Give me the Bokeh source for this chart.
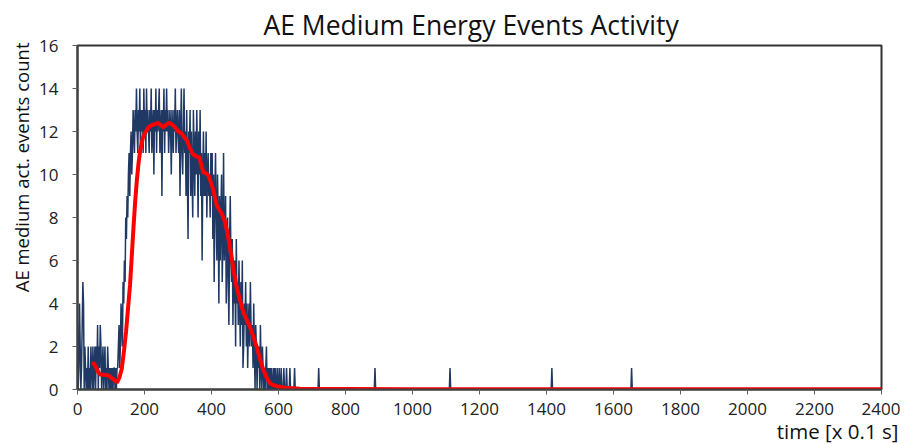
import numpy as np
from bokeh.plotting import figure
from bokeh.models import Title, Range1d, FixedTicker
from bokeh.embed import file_html
from bokeh.resources import INLINE

# Blue series: event counts sampled every 2 time units from 0 to 660
blue_counts = [
    3, 0, 1, 4, 2, 0, 1, 3, 5, 4,
    0, 2, 1, 0, 1, 0, 2, 0, 1, 0,
    2, 1, 0, 2, 0, 1, 2, 0, 2, 1,
    3, 0, 2, 1, 3, 2, 0, 1, 2, 0,
    1, 2, 0, 1, 0, 2, 1, 0, 1, 0,
    1, 0, 1, 0, 1, 1, 0, 1, 0, 1,
    1, 2, 3, 1, 2, 4, 3, 2, 5, 4,
    6, 5, 8, 7, 9, 8, 10, 11, 9, 11,
    12, 10, 11, 13, 12, 11, 13, 12, 14, 12,
    11, 13, 12, 14, 11, 13, 12, 13, 11, 14,
    12, 13, 11, 14, 12, 13, 12, 11, 13, 12,
    14, 11, 12, 13, 10, 13, 12, 14, 11, 13,
    12, 13, 14, 11, 12, 13, 9, 13, 12, 14,
    11, 13, 12, 14, 12, 13, 11, 12, 13, 12,
    10, 13, 12, 11, 13, 12, 14, 11, 12, 13,
    12, 11, 13, 9, 12, 14, 11, 10, 12, 14,
    11, 12, 9, 13, 10, 7, 12, 11, 13, 9,
    12, 10, 8, 13, 11, 9, 12, 10, 13, 11,
    8, 12, 10, 13, 9, 11, 6, 10, 12, 9,
    11, 9, 12, 8, 10, 11, 9, 10, 8, 11,
    9, 11, 7, 10, 5, 9, 11, 8, 6, 10,
    8, 4, 9, 6, 8, 10, 5, 7, 11, 6,
    7, 9, 4, 6, 8, 5, 3, 7, 9, 6,
    5, 7, 3, 6, 4, 6, 2, 7, 4, 5,
    3, 6, 4, 2, 5, 3, 6, 1, 2, 4,
    3, 5, 2, 4, 1, 3, 4, 2, 5, 3,
    2, 3, 1, 4, 2, 0, 3, 2, 0, 2,
    1, 2, 0, 3, 1, 0, 2, 1, 0, 1,
    0, 1, 2, 0, 1, 0, 1, 0, 1, 0,
    1, 0, 0, 1, 0, 1, 0, 0, 1, 0,
    0, 1, 0, 0, 1, 0, 0, 0, 1, 0,
    0, 0, 1, 0, 0, 0, 0, 1, 0, 0,
    0, 0, 0, 0, 1, 0, 0, 0, 0, 0,
    0,
]
blue_step = 2
spike_times = [720, 888, 1112, 1416, 1654]

# Red smoothed series
red_x = [48, 55, 62, 68, 80, 90, 97, 105, 112, 119, 125, 132, 138, 145, 151,
         157, 162, 167, 172, 177, 182, 187, 195, 202, 212, 222, 232, 241, 248,
         256, 264, 271, 280, 291, 301, 311, 320, 326, 335, 344, 354, 364, 370,
         376, 384, 391, 399, 406, 411, 416, 424, 431, 439, 446, 453, 460, 467,
         475, 485, 495, 505, 515, 525, 535, 545, 555, 565, 575, 585, 595, 620,
         664, 800, 1000, 1400, 1800, 2400]
red_y = [1.21, 1.05, 0.8, 0.7, 0.68, 0.66, 0.6, 0.5, 0.4, 0.36, 0.55, 0.95, 1.7,
         2.7, 3.8, 4.9, 6.2, 7.5, 8.7, 9.7, 10.5, 11.1, 11.7, 11.95, 12.2, 12.3,
         12.35, 12.4, 12.3, 12.2, 12.3, 12.4, 12.35, 12.2, 12.0, 11.9, 11.7, 11.6,
         11.25, 10.95, 10.85, 10.8, 10.4, 10.1, 10.05, 9.95, 9.6, 9.26, 8.85, 8.56,
         8.35, 8.17, 7.85, 7.4, 6.8, 6.16, 5.45, 4.77, 4.15, 3.6, 3.25, 2.9, 2.45,
         1.98, 1.4, 0.9, 0.55, 0.28, 0.2, 0.15, 0.08, 0.03, 0.02, 0.01, 0.01,
         0.01, 0.01]

x_ticks = list(range(0, 2401, 200))
y_ticks = list(range(0, 17, 2))

title_text = "AE Medium Energy Events Activity"
x_label = "time [x 0.1 s]"
y_label = "AE medium act. events count"

# build full blue series
times = np.arange(0, 2401, blue_step)
counts = np.zeros(len(times))
counts[:len(blue_counts)] = blue_counts
for t in spike_times:
    counts[t // blue_step] = 1

FONT = "Open Sans"

p = figure(width=900, height=444, output_backend="svg", toolbar_location=None,
           x_range=Range1d(0, 2400), y_range=Range1d(0, 16),
           min_border_left=77, min_border_top=45, min_border_right=19,
           min_border_bottom=55)

p.title.text = title_text
p.title.align = "left"
p.title.text_font = FONT
p.title.text_font_size = "26.5px"
p.title.text_font_style = "normal"
p.title.text_color = "#111111"
p.title.standoff = 5
p.title.offset = 186

p.line(times, counts, line_color="#1f3864", line_width=1.5)
p.line(red_x, red_y, line_color="#ff0000", line_width=4, line_join="round", line_cap="round")

p.xgrid.grid_line_color = None
p.ygrid.grid_line_color = None
p.outline_line_color = "#333333"
p.outline_line_width = 2
p.outline_line_alpha = 1
p.background_fill_color = "white"
p.border_fill_color = "white"

for ax in (p.xaxis[0], p.yaxis[0]):
    ax.axis_line_color = "#404040"
    ax.axis_line_width = 2
    ax.major_tick_line_color = "#606060"
    ax.major_tick_in = 0
    ax.major_tick_out = 5
    ax.minor_tick_line_color = None
    ax.major_label_text_font = FONT
    ax.major_label_text_font_size = "17px"
    ax.major_label_text_color = "#222222"

p.xaxis.major_label_standoff = 8
p.yaxis.major_label_standoff = 14

p.xaxis.ticker = FixedTicker(ticks=x_ticks)
p.yaxis.ticker = FixedTicker(ticks=y_ticks)

p.add_layout(Title(text=x_label, align="right", text_font=FONT, text_font_size="20.5px",
                   text_font_style="normal", text_color="#111111", offset=-17,
                   standoff=-6), "below")
p.add_layout(Title(text=y_label, align="right", text_font=FONT, text_font_size="18.5px",
                   text_font_style="normal", text_color="#111111", standoff=6,
                   offset=-3), "left")

open("out.html", "w").write(file_html(p, INLINE))
